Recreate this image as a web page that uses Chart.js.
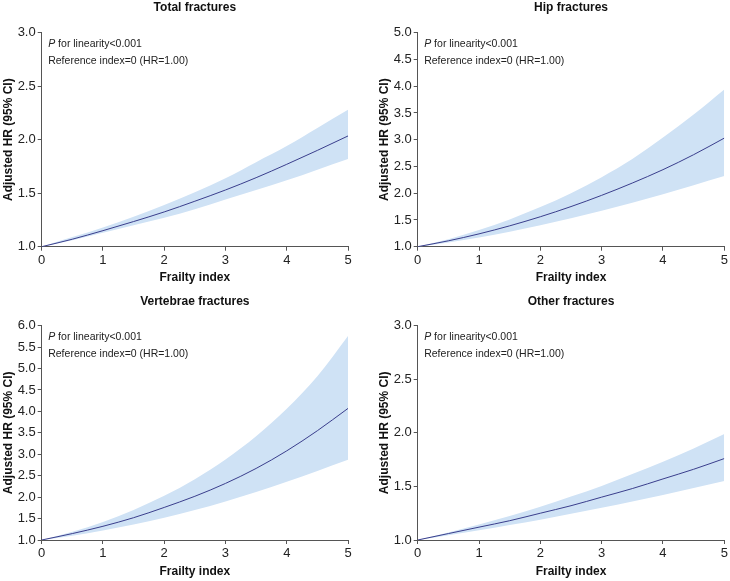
<!DOCTYPE html>
<html>
<head>
<meta charset="utf-8">
<script src="https://cdn.jsdelivr.net/npm/chart.js@4.4.0/dist/chart.umd.min.js"></script>
<style>
  body { margin: 0; background: #fff; }
  #wrap { position: relative; width: 730px; height: 581px; }
  canvas { position: absolute; }
</style>
</head>
<body>
<div id="wrap">
  <canvas id="c0"></canvas>
  <canvas id="c1"></canvas>
  <canvas id="c2"></canvas>
  <canvas id="c3"></canvas>
</div>
<script>
const frailtyIdx = [0, 0.5, 1, 1.5, 2, 2.5, 3, 3.5, 4, 4.5, 5];

const titles = ['Total fractures', 'Hip fractures', 'Vertebrae fractures', 'Other fractures'];
const yMax = [3, 5, 6, 3];

const totalHR    = [1.00, 1.07, 1.15, 1.235, 1.325, 1.425, 1.53, 1.645, 1.77, 1.90, 2.035];
const totalUpper = [1.00, 1.09, 1.18, 1.28, 1.39, 1.51, 1.64, 1.79, 1.94, 2.11, 2.28];
const totalLower = [1.00, 1.06, 1.13, 1.20, 1.27, 1.35, 1.44, 1.53, 1.62, 1.72, 1.82];

const hipHR    = [1.00, 1.11, 1.24, 1.39, 1.56, 1.75, 1.96, 2.19, 2.44, 2.72, 3.03];
const hipUpper = [1.00, 1.14, 1.31, 1.51, 1.74, 2.00, 2.30, 2.64, 3.04, 3.47, 3.94];
const hipLower = [1.00, 1.08, 1.17, 1.28, 1.40, 1.53, 1.67, 1.82, 1.98, 2.15, 2.32];

const vertHR    = [1.00, 1.15, 1.32, 1.52, 1.76, 2.02, 2.32, 2.67, 3.08, 3.55, 4.07];
const vertUpper = [1.00, 1.19, 1.42, 1.70, 2.03, 2.42, 2.88, 3.42, 4.06, 4.82, 5.76];
const vertLower = [1.00, 1.10, 1.22, 1.36, 1.52, 1.70, 1.90, 2.12, 2.36, 2.61, 2.87];

const otherHR    = [1.00, 1.06, 1.12, 1.18, 1.25, 1.32, 1.40, 1.48, 1.57, 1.66, 1.76];
const otherUpper = [1.00, 1.07, 1.145, 1.225, 1.31, 1.405, 1.505, 1.615, 1.73, 1.855, 1.99];
const otherLower = [1.00, 1.045, 1.09, 1.14, 1.19, 1.245, 1.30, 1.36, 1.42, 1.485, 1.55];

const series = [
  [totalHR, totalUpper, totalLower],
  [hipHR, hipUpper, hipLower],
  [vertHR, vertUpper, vertLower],
  [otherHR, otherUpper, otherLower]
];

// canvas placement and spacing for each panel
const boxes = [
  { left: 0,   top: 0,   width: 365, height: 290, padRight: 17,  titleTop: 0,   titleBottom: 18.3, xAxisH: 43.3, xTitleBottom: 5.1 },
  { left: 376, top: 0,   width: 354, height: 290, padRight: 5.7, titleTop: 0,   titleBottom: 18.3, xAxisH: 43.3, xTitleBottom: 5.1 },
  { left: 0,   top: 293, width: 365, height: 288, padRight: 17,  titleTop: 1.5, titleBottom: 16.8, xAxisH: 41,   xTitleBottom: 2.1 },
  { left: 376, top: 293, width: 354, height: 288, padRight: 5.7, titleTop: 1.5, titleBottom: 16.8, xAxisH: 41,   xTitleBottom: 2.1 }
];

const FONT = '"Liberation Sans", Arial, Helvetica, sans-serif';
const lineColor = 'rgb(58, 62, 140)';
const bandColor = 'rgb(207, 226, 245)';
const axisColor = '#555';
const textColor = '#222';

const toPts = arr => arr.map((v, i) => ({ x: frailtyIdx[i], y: v }));

const notePlugin = {
  id: 'note',
  afterDraw(chart) {
    const { ctx, chartArea } = chart;
    ctx.save();
    ctx.fillStyle = textColor;
    ctx.textBaseline = 'middle';
    const x = chartArea.left + 6.5;
    ctx.font = 'italic 10.5px ' + FONT;
    ctx.fillText('P', x, chartArea.top + 11);
    const pw = ctx.measureText('P').width;
    ctx.font = '10.5px ' + FONT;
    const sw = ctx.measureText(' ').width;
    ctx.fillText('for linearity<0.001', x + pw + sw, chartArea.top + 11);
    ctx.fillText('Reference index=0 (HR=1.00)', x, chartArea.top + 28.3);
    ctx.restore();
  }
};

boxes.forEach((b, i) => {
  const cv = document.getElementById('c' + i);
  cv.width = b.width;
  cv.height = b.height;
  cv.style.left = b.left + 'px';
  cv.style.top = b.top + 'px';
  const [hr, up, lo] = series[i];

  new Chart(cv.getContext('2d'), {
    type: 'line',
    data: {
      datasets: [
        {
          data: toPts(hr),
          borderColor: lineColor,
          borderWidth: 1,
          pointRadius: 0,
          fill: false,
          cubicInterpolationMode: 'monotone'
        },
        {
          data: toPts(up),
          borderWidth: 0,
          borderColor: 'rgba(0,0,0,0)',
          backgroundColor: bandColor,
          pointRadius: 0,
          fill: '+1',
          cubicInterpolationMode: 'monotone'
        },
        {
          data: toPts(lo),
          borderWidth: 0,
          borderColor: 'rgba(0,0,0,0)',
          pointRadius: 0,
          fill: false,
          cubicInterpolationMode: 'monotone'
        }
      ]
    },
    options: {
      responsive: false,
      animation: false,
      devicePixelRatio: 1,
      layout: { padding: { left: 0, right: b.padRight, top: 0, bottom: 0 } },
      plugins: {
        legend: { display: false },
        tooltip: { enabled: false },
        title: {
          display: true,
          text: titles[i],
          fullSize: false,
          color: '#111',
          font: { family: FONT, size: 12, weight: 'bold' },
          padding: { top: b.titleTop, bottom: b.titleBottom }
        }
      },
      scales: {
        x: {
          type: 'linear',
          min: 0,
          max: 5,
          ticks: { stepSize: 1, color: textColor, font: { family: FONT, size: 13 }, padding: 2, maxRotation: 0 },
          grid: { drawOnChartArea: false, tickLength: 4, color: axisColor },
          border: { color: axisColor, width: 1 },
          title: {
            display: true,
            text: 'Frailty index',
            color: '#111',
            font: { family: FONT, size: 12, weight: 'bold' },
            padding: { top: 4, bottom: b.xTitleBottom }
          },
          afterFit: s => { s.height = b.xAxisH; }
        },
        y: {
          min: 1,
          max: yMax[i],
          ticks: {
            stepSize: 0.5,
            color: textColor,
            font: { family: FONT, size: 13 },
            padding: 2,
            callback: v => Number(v).toFixed(1)
          },
          grid: { drawOnChartArea: false, tickLength: 4, color: axisColor },
          border: { color: axisColor, width: 1 },
          title: {
            display: true,
            text: 'Adjusted HR (95% CI)',
            color: '#111',
            font: { family: FONT, size: 12, weight: 'bold' },
            padding: { top: 1.1, bottom: 0 }
          },
          afterFit: s => { s.width = 41.7; }
        }
      }
    },
    plugins: [notePlugin]
  });
});
</script>
</body>
</html>
